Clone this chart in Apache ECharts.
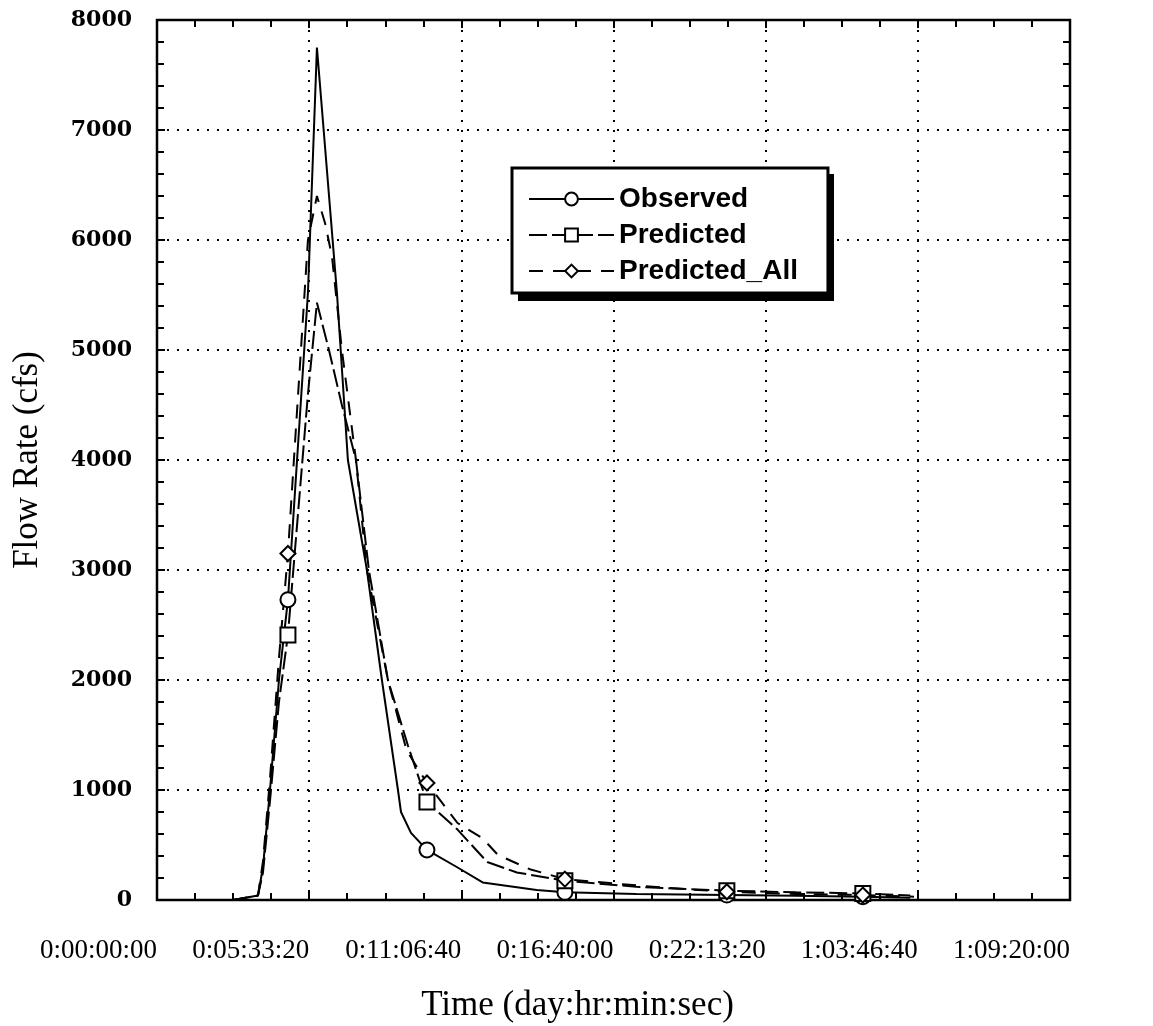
<!DOCTYPE html>
<html>
<head>
<meta charset="utf-8">
<script src="https://cdn.jsdelivr.net/npm/echarts@6/dist/echarts.min.js"></script>
<style>
  html, body { margin: 0; padding: 0; background: #fff; }
  #main { width: 1153px; height: 1026px; }
</style>
</head>
<body>
<div id="main"></div>
<script>
// tick labels of the time axis (seconds, every 20000 s)
var xTickLabels = ['0:00:00:00', '0:05:33:20', '0:11:06:40', '0:16:40:00', '0:22:13:20', '1:03:46:40', '1:09:20:00'];
var seriesNames = ['Observed', 'Predicted', 'Predicted_All'];

// time in seconds, flow in cfs
var obsTime = [10000, 13270, 13930, 14850, 16030, 17210, 19840, 21020, 23650, 25090, 27590, 29560, 31670, 32070, 33380, 35480, 39400, 42800, 49900, 53610, 63000, 74900, 84000, 92770, 99000];
var obsFlow = [0, 40, 300, 1000, 2000, 2730, 5520, 7750, 5520, 4000, 3000, 2000, 1000, 800, 610, 455, 300, 160, 90, 70, 55, 45, 38, 30, 20];
var obsMarks = [5, 15, 19, 21, 23];

var predTime = [10000, 13270, 13930, 14850, 16030, 17210, 19840, 21020, 22600, 24300, 26150, 27850, 30350, 33000, 35480, 39500, 43400, 47300, 53610, 63000, 74900, 84000, 92770, 99000];
var predFlow = [0, 40, 250, 900, 1800, 2410, 4600, 5430, 5000, 4500, 4000, 3000, 2000, 1400, 890, 640, 345, 250, 175, 120, 85, 70, 60, 40];
var predMarks = [5, 14, 18, 20, 22];

var allTime = [10000, 13270, 13930, 14850, 16030, 17210, 19840, 21020, 22100, 23000, 24300, 26150, 27590, 30350, 32800, 35480, 39500, 42800, 44800, 49000, 53610, 60000, 67000, 74900, 84000, 92770, 99500];
var allFlow = [0, 40, 350, 1100, 2200, 3150, 6000, 6400, 6150, 5850, 5000, 4000, 3000, 2000, 1360, 1064, 700, 560, 410, 280, 190, 150, 110, 75, 55, 45, 30];
var allMarks = [5, 15, 20, 23, 25];

function pairs(t, v) {
  return t.map(function (x, i) { return [x, v[i]]; });
}

var myChart = echarts.init(document.getElementById('main'));

var serif = '"Liberation Serif", "Times New Roman", serif';

function makeSeries(name, t, v, marks, symbol, lineType) {
  return {
    name: name,
    type: 'line',
    data: pairs(t, v),
    symbol: symbol,
    showAllSymbol: true,
    symbolSize: function (val, p) { return marks.indexOf(p.dataIndex) >= 0 ? 15 : 0; },
    itemStyle: { color: '#000', borderColor: '#000', borderWidth: 2 },
    lineStyle: { color: '#000', width: 2, type: lineType },
    animation: false,
    z: 3
  };
}

function tickAxis(extra) {
  var base = {
    type: 'value',
    axisLine: { show: false, onZero: false },
    axisTick: { inside: true, length: 8, lineStyle: { color: '#000', width: 2 } },
    minorTick: { show: true, length: 7, lineStyle: { color: '#000', width: 2 } },
    splitLine: { show: false }
  };
  return Object.assign(base, extra);
}

myChart.setOption({
  backgroundColor: '#fff',
  animation: false,
  grid: {
    left: 157, right: 83, top: 20, bottom: 126,
    outerBoundsMode: 'none',
    show: true, borderColor: '#000', borderWidth: 2.5
  },
  // drop shadow of the legend box
  graphic: [{
    type: 'rect', left: 518, top: 174, z: 4,
    shape: { width: 316, height: 127 },
    style: { fill: '#000' }
  }],
  legend: {
    left: 512, top: 168,
    orient: 'vertical',
    data: seriesNames,
    z: 5,
    backgroundColor: '#fff',
    borderColor: '#000',
    borderWidth: 3,
    padding: [17, 30, 8, 16],
    itemGap: 8,
    itemWidth: 85,
    itemHeight: 16,
    textStyle: { fontFamily: '"Liberation Sans", Arial, sans-serif', fontWeight: 'bold', fontSize: 28, color: '#000' }
  },
  xAxis: [tickAxis({
    min: 0, max: 120000, interval: 20000,
    position: 'bottom',
    name: 'Time (day:hr:min:sec)',
    nameLocation: 'middle',
    nameGap: 88,
    nameTextStyle: { fontFamily: serif, fontSize: 35, color: '#000', padding: [0, 72, 0, 0] },
    minorTick: { show: true, splitNumber: 4, length: 7, lineStyle: { color: '#000', width: 2 } },
    axisLabel: {
      margin: 37, align: 'right', color: '#000',
      fontFamily: serif, fontSize: 27,
      showMinLabel: true, showMaxLabel: true,
      formatter: function (v) { return xTickLabels[Math.round(v / 20000)]; }
    },
    splitLine: { show: true, lineStyle: { color: '#000', width: 2, type: [2, 8] } }
  }), tickAxis({
    min: 0, max: 120000, interval: 20000,
    position: 'top',
    minorTick: { show: true, splitNumber: 4, length: 7, lineStyle: { color: '#000', width: 2 } },
    axisLabel: { show: false }
  })],
  yAxis: [tickAxis({
    min: 0, max: 8000, interval: 1000,
    position: 'left',
    name: 'Flow Rate (cfs)',
    nameLocation: 'middle',
    nameGap: 112,
    nameTextStyle: { fontFamily: serif, fontSize: 35, color: '#000' },
    minorTick: { show: true, splitNumber: 5, length: 7, lineStyle: { color: '#000', width: 2 } },
    axisLabel: {
      margin: 25, color: '#000',
      fontFamily: '"DejaVu Serif", serif', fontWeight: 'bold', fontSize: 22,
      formatter: function (v) { return String(v); }
    },
    splitLine: { show: true, lineStyle: { color: '#000', width: 2, type: [2, 8] } }
  }), tickAxis({
    min: 0, max: 8000, interval: 1000,
    position: 'right',
    minorTick: { show: true, splitNumber: 5, length: 7, lineStyle: { color: '#000', width: 2 } },
    axisLabel: { show: false }
  })],
  series: [
    makeSeries(seriesNames[0], obsTime, obsFlow, obsMarks, 'emptyCircle', 'solid'),
    makeSeries(seriesNames[1], predTime, predFlow, predMarks, 'emptyRect', [18, 5]),
    makeSeries(seriesNames[2], allTime, allFlow, allMarks, 'emptyDiamond', [14, 10])
  ]
});
</script>
</body>
</html>
